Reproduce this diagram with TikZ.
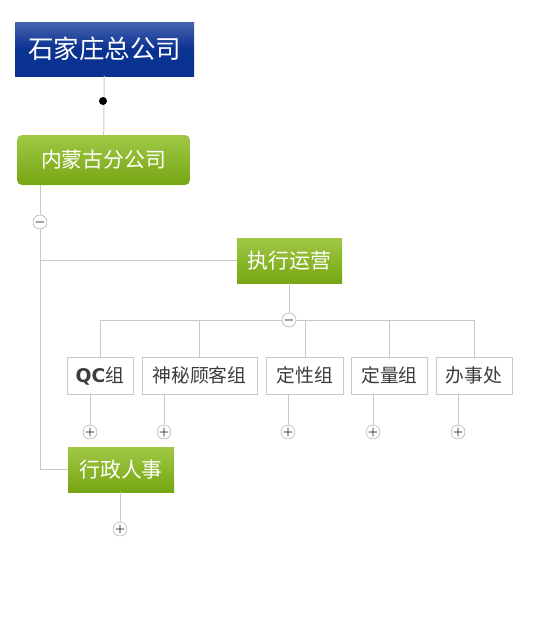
\documentclass[tikz,border=0pt]{standalone}
\usepackage{fontspec}
\setmainfont{Noto Sans CJK SC}
\usepackage{xcolor}
\usepackage{tikz}

\definecolor{hqtop}{RGB}{70,100,175}
\definecolor{hqbot}{RGB}{10,50,145}
\definecolor{grtop}{RGB}{160,200,70}
\definecolor{grbot}{RGB}{118,166,18}
\definecolor{linegray}{RGB}{200,200,200}
\definecolor{boxtext}{RGB}{60,60,60}

\begin{document}
\begin{tikzpicture}[x=1pt,y=-1pt,
    hq/.style={top color=hqtop,bottom color=hqbot,middle color=hqbot,text=white,
      minimum width=179pt,minimum height=54pt,inner sep=0pt,font=\fontsize{25.5}{28}\selectfont},
    branch/.style={top color=grtop,bottom color=grbot,text=white,
      minimum height=45pt,inner sep=0pt,font=\fontsize{20.8}{23}\selectfont},
    team/.style={draw=linegray,fill=white,text=boxtext,minimum height=37pt,
      inner sep=0pt,font=\fontsize{18.8}{21}\selectfont},
    toggle/.style={circle,draw=gray!80,fill=white,minimum size=14pt,inner sep=0pt,
      font=\fontsize{13}{13}\selectfont\boldmath},
    link/.style={draw=linegray,line width=1pt}]
  \useasboundingbox (0,0) rectangle (543,640);
  % head office and branch
  \node[hq] (hq) at (104.5,49) {石家庄总公司};
  \node[branch,rounded corners=5pt,minimum width=173pt,minimum height=50pt] (mongolia) at (103.5,160) {内蒙古分公司};
  \draw[link] (hq) -- (mongolia);
  \fill (103,101) circle (4pt);
  % departments
  \node[branch,minimum width=105pt] (ops) at (289.5,260.5) {执行运营};
  \node[branch,minimum width=106pt] (admin) at (121,469.5) {行政人事};
  \node[toggle] (m1) at (40,222) {$-$};
  \draw[link] (mongolia.south -| m1) -- (m1.north);
  \draw[link] (m1.south) -- (m1 |- admin) -- (admin.west);
  \draw[link] (m1 |- ops) -- (ops.west);
  % teams under operations
  \node[toggle] (m2) at (289,320) {$-$};
  \draw[link] (ops.south -| m2) -- (m2.north);
  \node[team,minimum width=66pt] (qc) at (100,375.5) {\textbf{\fontspec{DejaVu Sans}QC}组};
  \node[team,minimum width=115pt] (mystery) at (199.5,375.5) {神秘顾客组};
  \node[team,minimum width=77pt] (quali) at (305,375.5) {定性组};
  \node[team,minimum width=76pt] (quant) at (389.5,375.5) {定量组};
  \node[team,minimum width=76pt] (office) at (474,375.5) {办事处};
  \draw[link] (qc.north |- m2) -- (m2.west);
  \draw[link] (m2.east) -- (office.north |- m2);
  \foreach \t in {qc,mystery,quali,quant,office}
    \draw[link] (\t.north |- m2) -- (\t.north);
  % collapsed children
  \node[toggle] (p1) at (90,432) {$+$};
  \node[toggle] (p2) at (164,432) {$+$};
  \node[toggle] (p3) at (288,432) {$+$};
  \node[toggle] (p4) at (373,432) {$+$};
  \node[toggle] (p5) at (458,432) {$+$};
  \node[toggle] (p6) at (120,529) {$+$};
  \draw[link] (qc.south -| p1) -- (p1.north);
  \draw[link] (mystery.south -| p2) -- (p2.north);
  \draw[link] (quali.south -| p3) -- (p3.north);
  \draw[link] (quant.south -| p4) -- (p4.north);
  \draw[link] (office.south -| p5) -- (p5.north);
  \draw[link] (admin.south -| p6) -- (p6.north);
\end{tikzpicture}
\end{document}
